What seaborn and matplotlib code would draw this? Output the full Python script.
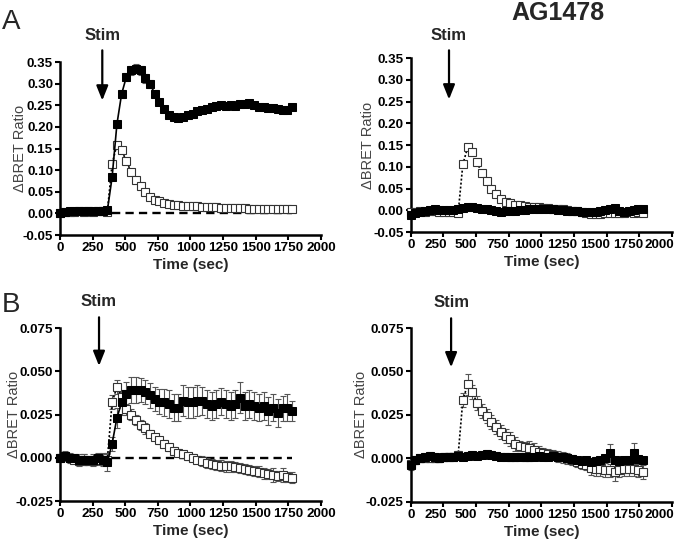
import numpy as np
import seaborn as sns
import matplotlib.pyplot as plt
import matplotlib.transforms as mtransforms

# BRET time courses, mean +/- SEM, one read every ~36 s
time_s = [0, 36, 73, 109, 145, 182, 218, 254, 290, 327, 363, 399, 436, 472, 508, 545, 581,
          617, 653, 690, 726, 762, 799, 835, 871, 908, 944, 980, 1016, 1053, 1089, 1125,
          1162, 1198, 1234, 1271, 1307, 1343, 1379, 1416, 1452, 1488, 1525, 1561, 1597,
          1634, 1670, 1706, 1742, 1779]

# panel A, control (left)
a_ctrl_filled = [0.000, 0.004, 0.005, 0.006, 0.005, 0.006, 0.006, 0.005, 0.006, 0.006,
                 0.007, 0.083, 0.206, 0.276, 0.315, 0.331, 0.335, 0.331, 0.312, 0.299,
                 0.277, 0.257, 0.242, 0.227, 0.224, 0.220, 0.223, 0.227, 0.230, 0.236,
                 0.239, 0.242, 0.245, 0.248, 0.250, 0.249, 0.250, 0.249, 0.252, 0.254,
                 0.255, 0.250, 0.247, 0.247, 0.244, 0.243, 0.242, 0.240, 0.240, 0.245]
a_ctrl_filled_err = [0.003, 0.002, 0.002, 0.003, 0.002, 0.003, 0.002, 0.003, 0.002, 0.003,
                     0.004, 0.006, 0.008, 0.009, 0.009, 0.010, 0.011, 0.010, 0.010, 0.009,
                     0.008, 0.007, 0.007, 0.006, 0.006, 0.006, 0.005, 0.005, 0.005, 0.005,
                     0.005, 0.005, 0.005, 0.004, 0.005, 0.005, 0.004, 0.005, 0.005, 0.005,
                     0.004, 0.005, 0.005, 0.004, 0.005, 0.004, 0.005, 0.004, 0.005, 0.005]
a_ctrl_open = [0.002, 0.003, 0.004, 0.004, 0.005, 0.004, 0.005, 0.004, 0.005, 0.005,
               0.004, 0.114, 0.159, 0.146, 0.121, 0.096, 0.077, 0.063, 0.050, 0.039,
               0.032, 0.028, 0.025, 0.022, 0.020, 0.019, 0.018, 0.017, 0.016, 0.016,
               0.015, 0.015, 0.014, 0.014, 0.013, 0.013, 0.013, 0.012, 0.012, 0.012,
               0.011, 0.011, 0.010, 0.011, 0.010, 0.009, 0.009, 0.010, 0.010, 0.010]
a_ctrl_open_err = [0.002, 0.002, 0.002, 0.002, 0.002, 0.002, 0.002, 0.002, 0.002, 0.002,
                   0.002, 0.005, 0.005, 0.004, 0.004, 0.004, 0.003, 0.003, 0.003, 0.003,
                   0.003, 0.003, 0.003, 0.003, 0.003, 0.003, 0.003, 0.003, 0.003, 0.003,
                   0.003, 0.003, 0.003, 0.003, 0.003, 0.003, 0.003, 0.003, 0.003, 0.003,
                   0.003, 0.003, 0.003, 0.003, 0.003, 0.003, 0.003, 0.003, 0.003, 0.003]

# panel A, AG1478 (right)
a_ag_filled = [-0.012, -0.006, -0.003, -0.001, 0.001, 0.002, 0.001, 0.000, 0.000, 0.001,
               0.002, 0.006, 0.008, 0.007, 0.006, 0.004, 0.002, 0.000, -0.002, -0.003,
               -0.002, -0.002, -0.001, 0.000, 0.001, 0.002, 0.003, 0.003, 0.004, 0.003,
               0.002, 0.001, 0.000, -0.001, -0.002, -0.001, -0.003, -0.004, -0.004, -0.003,
               -0.002, 0.000, 0.002, 0.006, -0.001, -0.003, -0.002, 0.001, 0.004, 0.002]
a_ag_filled_err = [0.004, 0.003, 0.003, 0.003, 0.003, 0.003, 0.003, 0.003, 0.003, 0.003,
                   0.003, 0.003, 0.003, 0.003, 0.003, 0.003, 0.003, 0.003, 0.003, 0.003,
                   0.003, 0.003, 0.003, 0.003, 0.003, 0.003, 0.003, 0.003, 0.003, 0.003,
                   0.003, 0.003, 0.003, 0.003, 0.003, 0.003, 0.003, 0.003, 0.003, 0.003,
                   0.003, 0.003, 0.003, 0.004, 0.003, 0.003, 0.003, 0.003, 0.004, 0.004]
a_ag_open = [-0.004, -0.003, -0.002, -0.003, -0.002, -0.002, -0.003, -0.004, -0.004, -0.005,
             -0.006, 0.106, 0.145, 0.133, 0.110, 0.085, 0.067, 0.050, 0.037, 0.027,
             0.020, 0.016, 0.013, 0.011, 0.010, 0.008, 0.007, 0.007, 0.006, 0.005,
             0.004, 0.003, 0.002, 0.000, -0.001, -0.002, -0.004, -0.006, -0.008, -0.009,
             -0.008, -0.007, -0.006, -0.006, -0.007, -0.006, -0.005, -0.006, -0.005, -0.006]
a_ag_open_err = [0.002, 0.002, 0.002, 0.002, 0.002, 0.002, 0.002, 0.002, 0.002, 0.002,
                 0.002, 0.005, 0.006, 0.005, 0.004, 0.004, 0.003, 0.003, 0.003, 0.003,
                 0.003, 0.003, 0.003, 0.003, 0.003, 0.003, 0.003, 0.003, 0.003, 0.003,
                 0.003, 0.003, 0.003, 0.003, 0.003, 0.003, 0.003, 0.003, 0.003, 0.003,
                 0.003, 0.003, 0.003, 0.003, 0.003, 0.003, 0.003, 0.003, 0.003, 0.003]

# panel B, control (left)
b_ctrl_filled = [0.000, 0.001, 0.000, 0.000, -0.001, -0.001, -0.001, -0.001, 0.000, -0.001,
                 -0.0025, 0.008, 0.023, 0.032, 0.037, 0.039, 0.039, 0.039, 0.038, 0.036,
                 0.034, 0.0325, 0.032, 0.031, 0.029, 0.029, 0.033, 0.032, 0.032, 0.033,
                 0.033, 0.031, 0.030, 0.031, 0.0325, 0.031, 0.030, 0.031, 0.0348, 0.030,
                 0.031, 0.030, 0.029, 0.030, 0.027, 0.029, 0.026, 0.0285, 0.029, 0.027]
b_ctrl_filled_err = [0.002, 0.003, 0.003, 0.002, 0.003, 0.003, 0.002, 0.003, 0.003, 0.004,
                     0.005, 0.004, 0.006, 0.007, 0.007, 0.0075, 0.0075, 0.007, 0.007, 0.007,
                     0.007, 0.007, 0.008, 0.008, 0.008, 0.008, 0.009, 0.009, 0.009, 0.009,
                     0.008, 0.008, 0.008, 0.008, 0.008, 0.008, 0.008, 0.008, 0.009, 0.008,
                     0.008, 0.008, 0.008, 0.008, 0.008, 0.008, 0.008, 0.007, 0.008, 0.006]
b_ctrl_open = [0.000, 0.001, 0.000, -0.001, -0.002, -0.001, -0.002, -0.002, -0.001, -0.001,
               -0.001, 0.032, 0.041, 0.035, 0.028, 0.025, 0.022, 0.019, 0.017, 0.014,
               0.012, 0.010, 0.008, 0.006, 0.004, 0.003, 0.002, 0.001, 0.000, -0.001,
               -0.002, -0.003, -0.0035, -0.004, -0.0045, -0.005, -0.005, -0.0055, -0.006, -0.0065,
               -0.007, -0.0075, -0.008, -0.009, -0.0095, -0.010, -0.0105, -0.010, -0.011, -0.0115]
b_ctrl_open_err = [0.002, 0.002, 0.002, 0.002, 0.003, 0.003, 0.002, 0.003, 0.003, 0.003,
                   0.003, 0.004, 0.004, 0.003, 0.003, 0.003, 0.003, 0.003, 0.003, 0.002,
                   0.002, 0.002, 0.002, 0.002, 0.002, 0.002, 0.002, 0.002, 0.002, 0.002,
                   0.003, 0.003, 0.003, 0.003, 0.003, 0.003, 0.003, 0.003, 0.003, 0.003,
                   0.003, 0.003, 0.003, 0.003, 0.003, 0.004, 0.003, 0.004, 0.003, 0.003]

# panel B, AG1478 (right)
b_ag_filled = [-0.004, -0.001, 0.000, 0.001, 0.0015, 0.001, 0.000, 0.0005, 0.001, 0.001,
               0.0015, 0.001, 0.0015, 0.002, 0.0015, 0.002, 0.0025, 0.002, 0.0015, 0.001,
               0.001, 0.0005, 0.0005, 0.001, 0.0005, 0.0005, 0.001, 0.0015, 0.001, 0.001,
               0.0015, 0.001, 0.0005, 0.000, -0.0005, -0.001, -0.0015, -0.001, -0.002, -0.0015,
               -0.001, 0.000, 0.003, -0.001, -0.0015, -0.001, -0.001, 0.003, -0.0005, -0.001]
b_ag_filled_err = [0.003, 0.002, 0.002, 0.002, 0.002, 0.002, 0.002, 0.002, 0.002, 0.002,
                   0.002, 0.002, 0.002, 0.002, 0.002, 0.002, 0.002, 0.002, 0.002, 0.002,
                   0.002, 0.002, 0.002, 0.002, 0.002, 0.002, 0.002, 0.002, 0.002, 0.002,
                   0.002, 0.002, 0.002, 0.002, 0.002, 0.002, 0.002, 0.002, 0.002, 0.002,
                   0.002, 0.002, 0.005, 0.002, 0.002, 0.002, 0.002, 0.006, 0.002, 0.002]
b_ag_open = [-0.003, -0.001, 0.000, 0.000, 0.000, 0.000, 0.000, 0.001, 0.001, 0.001,
             0.002, 0.0336, 0.0426, 0.038, 0.0317, 0.0274, 0.0244, 0.021, 0.018, 0.0153,
             0.0128, 0.011, 0.008, 0.0071, 0.0063, 0.006, 0.005, 0.0038, 0.003, 0.0025,
             0.002, 0.001, 0.0005, 0.000, -0.001, -0.002, -0.003, -0.004, -0.0055, -0.006,
             -0.006, -0.0065, -0.007, -0.0078, -0.007, -0.006, -0.006, -0.006, -0.007, -0.008]
b_ag_open_err = [0.002, 0.002, 0.002, 0.002, 0.002, 0.002, 0.002, 0.002, 0.002, 0.002,
                 0.002, 0.004, 0.006, 0.004, 0.004, 0.004, 0.004, 0.004, 0.004, 0.004,
                 0.004, 0.004, 0.004, 0.003, 0.003, 0.004, 0.004, 0.003, 0.003, 0.003,
                 0.003, 0.003, 0.003, 0.003, 0.003, 0.003, 0.003, 0.003, 0.004, 0.004,
                 0.004, 0.004, 0.004, 0.005, 0.004, 0.004, 0.004, 0.004, 0.004, 0.004]

stim_time = 363  # last baseline read before agonist

x_ticks = [0, 250, 500, 750, 1000, 1250, 1500, 1750, 2000]
a_y_ticks = [-0.05, 0.00, 0.05, 0.10, 0.15, 0.20, 0.25, 0.30, 0.35]
b_y_ticks = [-0.025, 0.000, 0.025, 0.050, 0.075]

sns.set_style("ticks")
plt.rcParams["font.family"] = ["Liberation Sans", "DejaVu Sans"]
plt.rcParams["axes.unicode_minus"] = False

fig = plt.figure(figsize=(6.85, 5.45), dpi=100)

t = np.array(time_s, dtype=float)

# right-hand panels: x tick labels are packed slightly to the left (px)
right_label_shift = [0, -8, -10, -11, -12, -12, -12, -11, -13]


def draw_series(ax, values, err, filled):
    ax.errorbar(t, values, yerr=err, fmt="none", ecolor="#555555", elinewidth=0.8,
                capsize=2.5, capthick=0.8, clip_on=False, zorder=2)
    if filled:
        sns.lineplot(x=t, y=values, ax=ax, color="black", marker="s", markersize=5.4,
                     markerfacecolor="black", markeredgecolor="black", linewidth=1.2,
                     errorbar=None, clip_on=False, zorder=4)
    else:
        ln = sns.lineplot(x=t, y=values, ax=ax, color="black", marker="s", markersize=5.2,
                          markerfacecolor="white", markeredgecolor="#333333",
                          markeredgewidth=0.8, linewidth=1.2, errorbar=None,
                          clip_on=False, zorder=3)
        ln.lines[-1].set_linestyle((0, (1.2, 1.2)))


def style_axes(ax, y_ticks, fmt, ylabel_x, right_panel):
    ax.set_xlim(0, 2000)
    ax.set_ylim(y_ticks[0], y_ticks[-1])
    ax.set_xticks(x_ticks)
    ax.set_xticklabels([str(v) for v in x_ticks], fontweight="bold", fontsize=9.7)
    ax.set_yticks(y_ticks)
    ax.set_yticklabels([fmt.format(v) for v in y_ticks], fontweight="bold", fontsize=9.6)
    ax.tick_params(width=1.5, length=3.5, pad=1.5, colors="black")
    for s in ["left", "bottom"]:
        ax.spines[s].set_linewidth(1.8)
        ax.spines[s].set_color("black")
    sns.despine(ax=ax)
    ax.set_xlabel("Time (sec)", fontweight="bold", fontsize=11, labelpad=3)
    ax.set_ylabel("\u0394BRET Ratio", fontsize=10.5, color="#444444")
    ax.yaxis.set_label_coords(ylabel_x, 0.5)
    if right_panel:
        # done last: tick_params resets the label transforms
        for lbl, dx in zip(ax.get_xticklabels(), right_label_shift):
            lbl.set_transform(lbl.get_transform()
                              + mtransforms.ScaledTranslation(dx / 100, 0, fig.dpi_scale_trans))


def stim_arrow(ax, x, head, tail, text_y):
    ax.annotate("", xy=(x, head), xytext=(x, tail), annotation_clip=False,
                arrowprops=dict(arrowstyle="-|>,head_length=0.55,head_width=0.22",
                                mutation_scale=16, lw=1.6, color="black",
                                shrinkA=0, shrinkB=0))
    ax.text(x, text_y, "Stim", ha="center", va="center", fontsize=12,
            fontweight="bold", clip_on=False)


panels = [
    ([0.0876, 0.5688, 0.381, 0.3174], a_y_ticks, "{:.2f}",
     (a_ctrl_open, a_ctrl_open_err), (a_ctrl_filled, a_ctrl_filled_err), True,
     (324, 0.261, 0.377, 0.4116), -0.126, False),
    ([0.5996, 0.5743, 0.3815, 0.319], a_y_ticks, "{:.2f}",
     (a_ag_open, a_ag_open_err), (a_ag_filled, a_ag_filled_err), False,
     (293, 0.255, 0.368, 0.403), -0.137, True),
    ([0.0876, 0.0807, 0.381, 0.3174], b_y_ticks, "{:.3f}",
     (b_ctrl_open, b_ctrl_open_err), (b_ctrl_filled, b_ctrl_filled_err), True,
     (299, 0.0531, 0.0812, 0.0903), -0.149, False),
    ([0.5996, 0.0794, 0.3815, 0.3187], b_y_ticks, "{:.3f}",
     (b_ag_open, b_ag_open_err), (b_ag_filled, b_ag_filled_err), False,
     (309, 0.0524, 0.0806, 0.0898), -0.163, True),
]

for rect, yt, fmt, open_s, filled_s, vehicle, arrow, ylab_x, right in panels:
    ax = fig.add_axes(rect)
    if vehicle:
        post = t > stim_time
        sns.lineplot(x=t[post], y=np.zeros(post.sum()), ax=ax, color="black",
                     linewidth=1.7, dashes=False, errorbar=None, zorder=1)
        ax.lines[-1].set_linestyle((0, (3.5, 2.2)))
    draw_series(ax, open_s[0], open_s[1], filled=False)
    draw_series(ax, filled_s[0], filled_s[1], filled=True)
    style_axes(ax, yt, fmt, ylab_x, right)
    stim_arrow(ax, *arrow)

fig.text(0.003, 1 - 22 / 545, "A", fontsize=20, ha="left", va="center")
fig.text(0.003, 1 - 305 / 545, "B", fontsize=20, ha="left", va="center")
fig.text(558 / 685, 1 - 13 / 545, "AG1478", fontsize=18, fontweight="bold",
         ha="center", va="center")

fig.savefig("out.png", dpi=100)
